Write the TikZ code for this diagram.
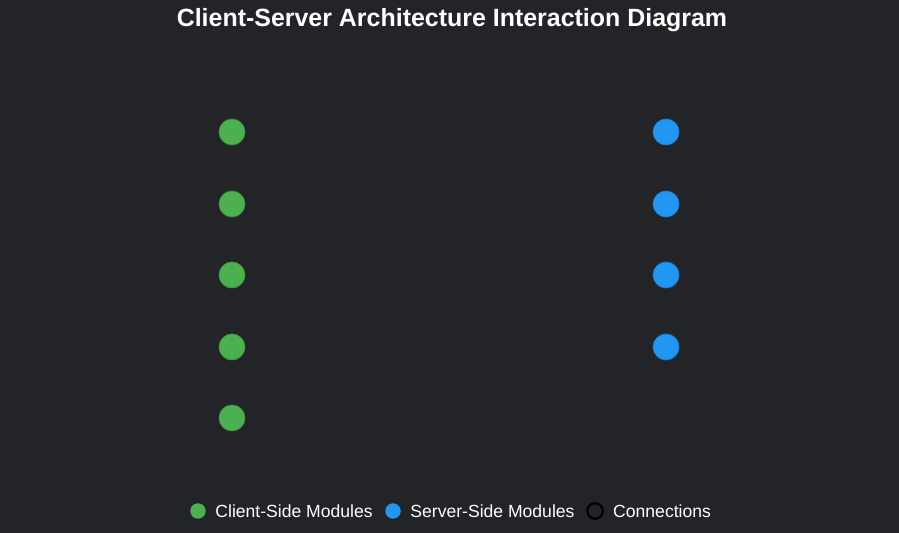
\documentclass[tikz,border=0pt]{standalone}
\usepackage{fontspec}
\setmainfont{Liberation Sans}
\usetikzlibrary{positioning}
\definecolor{bgdark}{RGB}{34,36,40}
\definecolor{clientgreen}{RGB}{76,175,80}
\definecolor{servblue}{RGB}{33,150,243}
\tikzset{
  cs diagram/.style = {
    x=0.02cm, y=-0.02cm,
    % Modules
    module/.style  = {circle, minimum size=0.52cm, inner sep=0pt},
    cmod/.style    = {module, fill=clientgreen, draw=clientgreen!85!black, line width=0.4pt},
    smod/.style    = {module, fill=servblue, draw=servblue!85!black, line width=0.4pt},
    % Legend
    lmark/.style   = {circle, minimum size=0.31cm, inner sep=0pt},
    ltext/.style   = {text=white, font=\fontsize{10}{12}\selectfont, inner sep=0pt, right=0.18cm},
  }
}
\begin{document}
\begin{tikzpicture}[cs diagram]
  \fill[bgdark] (0,0) rectangle (899,533);
  \useasboundingbox (0,0) rectangle (899,533);
  \node[text=white, font=\fontsize{14.2}{17}\selectfont\bfseries] (title) at (452,20) {Client-Server Architecture Interaction Diagram};
%---------------------------------------------
  \foreach \n/\y in {1/132,2/204,3/275,4/347,5/418}
    \node[cmod] (client\n) at (232,\y) {};
  \foreach \n/\y in {1/132,2/204,3/275,4/347}
    \node[smod] (server\n) at (666,\y) {};
%---------------------------------------------
  \node[lmark, fill=clientgreen] (lclient) at (198,511) {};
  \node[ltext] (lclienttext) at (lclient.east) {Client-Side Modules};
  \node[lmark, fill=servblue] (lserver) at (393,511) {};
  \node[ltext] (lservertext) at (lserver.east) {Server-Side Modules};
  \node[lmark, draw=black, line width=1.3pt] (lconn) at (595,511) {};
  \node[ltext] (lconntext) at (lconn.east) {Connections};
\end{tikzpicture}
\end{document}
